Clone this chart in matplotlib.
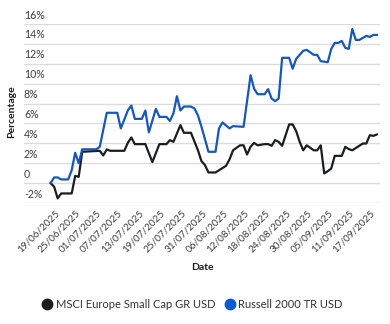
import matplotlib
matplotlib.use("Agg")
import matplotlib.pyplot as plt
from matplotlib.lines import Line2D
from matplotlib.transforms import blended_transform_factory, offset_copy
from datetime import datetime, timedelta

plt.rcParams['font.family'] = ['Lato', 'DejaVu Sans']

# Cumulative return (%) of each index, by date
msci_dates = ["2025-06-16", "2025-06-17", "2025-06-18", "2025-06-19", "2025-06-22",
              "2025-06-23", "2025-06-24", "2025-06-25", "2025-06-30", "2025-07-01",
              "2025-07-02", "2025-07-03", "2025-07-07", "2025-07-08", "2025-07-09",
              "2025-07-10", "2025-07-13", "2025-07-15", "2025-07-17", "2025-07-19",
              "2025-07-20", "2025-07-21", "2025-07-23", "2025-07-24", "2025-07-26",
              "2025-07-28", "2025-07-29", "2025-07-30", "2025-07-31", "2025-08-02",
              "2025-08-05", "2025-08-06", "2025-08-07", "2025-08-09", "2025-08-10",
              "2025-08-11", "2025-08-12", "2025-08-13", "2025-08-14", "2025-08-16",
              "2025-08-17", "2025-08-18", "2025-08-19", "2025-08-20", "2025-08-21",
              "2025-08-23", "2025-08-24", "2025-08-25", "2025-08-26", "2025-08-27",
              "2025-08-28", "2025-08-30", "2025-08-31", "2025-09-01", "2025-09-02",
              "2025-09-03", "2025-09-04", "2025-09-05", "2025-09-07", "2025-09-08",
              "2025-09-09", "2025-09-10", "2025-09-13", "2025-09-14", "2025-09-15",
              "2025-09-16", "2025-09-17"]
msci_values = [0.0, -0.37, -1.54, -1.04, -1.04,
               0.73, 0.63, 3.15, 3.25, 2.78,
               3.38, 3.25, 3.25, 4.05, 4.59,
               3.92, 3.92, 2.11, 3.92, 3.92,
               4.32, 4.15, 5.83, 5.06, 5.06,
               3.3, 2.21, 1.81, 1.07, 1.07,
               1.74, 2.38, 3.3, 3.8, 3.8,
               2.88, 3.65, 4.05, 3.8, 3.92,
               3.92, 3.75, 4.32, 4.15, 3.75,
               5.9, 5.9, 5.23, 4.15, 3.3,
               3.8, 3.3, 3.3, 3.8, 0.97,
               1.2, 1.47, 2.74, 2.74, 3.65,
               3.42, 3.3, 3.98, 3.98, 4.82,
               4.75, 4.89]

russell_dates = ["2025-06-16", "2025-06-17", "2025-06-18", "2025-06-19", "2025-06-21",
                 "2025-06-22", "2025-06-23", "2025-06-24", "2025-06-25", "2025-06-29",
                 "2025-06-30", "2025-07-02", "2025-07-05", "2025-07-06", "2025-07-08",
                 "2025-07-09", "2025-07-10", "2025-07-12", "2025-07-13", "2025-07-14",
                 "2025-07-16", "2025-07-17", "2025-07-19", "2025-07-20", "2025-07-21",
                 "2025-07-22", "2025-07-23", "2025-07-24", "2025-07-26", "2025-07-27",
                 "2025-07-28", "2025-07-29", "2025-07-31", "2025-08-02", "2025-08-03",
                 "2025-08-04", "2025-08-06", "2025-08-07", "2025-08-10", "2025-08-12",
                 "2025-08-13", "2025-08-14", "2025-08-16", "2025-08-17", "2025-08-18",
                 "2025-08-19", "2025-08-20", "2025-08-21", "2025-08-23", "2025-08-24",
                 "2025-08-25", "2025-08-27", "2025-08-28", "2025-08-30", "2025-08-31",
                 "2025-09-01", "2025-09-03", "2025-09-04", "2025-09-05", "2025-09-06",
                 "2025-09-07", "2025-09-08", "2025-09-09", "2025-09-10", "2025-09-11",
                 "2025-09-12", "2025-09-14", "2025-09-15", "2025-09-16", "2025-09-17"]
russell_values = [0.0, 0.57, 0.57, 0.37, 0.37,
                  1.3, 3.05, 2.0, 3.4, 3.4,
                  3.65, 7.07, 7.07, 5.5, 7.3,
                  7.8, 6.46, 6.46, 7.3, 5.1,
                  7.47, 6.66, 6.66, 6.26, 7.0,
                  8.74, 7.3, 7.7, 7.7, 7.5,
                  6.8, 5.66, 3.15, 3.15, 5.5,
                  6.1, 5.5, 5.73, 5.66, 10.85,
                  9.5, 8.94, 8.94, 9.45, 8.5,
                  8.24, 8.5, 12.6, 12.6, 11.5,
                  12.5, 13.3, 13.4, 12.9, 12.9,
                  12.26, 12.16, 13.5, 14.1, 14.1,
                  14.3, 13.6, 13.5, 15.5, 14.4,
                  14.4, 14.8, 14.7, 14.9, 14.9]

series_names = ["MSCI Europe Small Cap GR USD", "Russell 2000 TR USD"]
series_colors = ["#1b1d22", "#1757b8"]
legend_colors = ["#1b1d22", "#0a5ad4"]

y_ticks = [-2, 0, 2, 4, 6, 8, 10, 12, 14, 16]
y_tick_labels = ["-2%", "0", "2%", "4%", "6%", "8%", "10%", "12%", "14%", "16%"]
x_tick_labels = ["19/06/2025", "25/06/2025", "01/07/2025", "07/07/2025", "13/07/2025",
                 "19/07/2025", "25/07/2025", "31/07/2025", "06/08/2025", "12/08/2025",
                 "18/08/2025", "24/08/2025", "30/08/2025", "05/09/2025", "11/09/2025",
                 "17/09/2025"]


def to_dates(strings):
    return [datetime.strptime(s, "%Y-%m-%d") for s in strings]


W, H = 390, 324
fig = plt.figure(figsize=(W / 100, H / 100), dpi=100)
ax = fig.add_axes([24 / W, 121 / H, 356 / W, 179 / H])

grid_color = "#dcdcdc"
text_color = "#3c3c3c"

for yv in y_ticks:
    ax.axhline(yv, color=grid_color, lw=1.0, zorder=0)

ax.plot(to_dates(msci_dates), msci_values, color=series_colors[0], lw=1.6,
        solid_joinstyle="round", zorder=3, clip_on=False)
ax.plot(to_dates(russell_dates), russell_values, color=series_colors[1], lw=1.6,
        solid_joinstyle="round", zorder=3, clip_on=False)

start = datetime(2025, 6, 16)
end = datetime(2025, 9, 17)
ax.set_xlim(start - timedelta(days=7.6), end + timedelta(days=0.9))
ax.set_ylim(-2, 16)

for s in ax.spines.values():
    s.set_visible(False)

# y labels sit just above their gridlines, inside the plot area
ax.set_yticks([])
trans = offset_copy(blended_transform_factory(ax.transAxes, ax.transData),
                    fig=fig, x=0, y=2.5, units="points")
for yv, lab in zip(y_ticks, y_tick_labels):
    ax.text(0.0, yv, lab, transform=trans, ha="left", va="bottom",
            fontsize=7.6, color=text_color)

tick_dates = to_dates([datetime.strptime(t, "%d/%m/%Y").strftime("%Y-%m-%d")
                       for t in x_tick_labels])
ax.set_xticks(tick_dates)
ax.set_xticklabels(x_tick_labels, rotation=45, ha="right", fontsize=7.2,
                   color=text_color)
ax.tick_params(axis="x", length=0, pad=4)

ax.set_xlabel("Date", fontsize=7.5, fontweight="bold", color="#1a1a1a", labelpad=6)
fig.text(12 / W, 1 - 112 / H, "Percentage", rotation=90, ha="center", va="center",
         fontsize=7.5, fontweight="bold", color="#1a1a1a")

handles = [Line2D([], [], marker="o", linestyle="none", markersize=7.5,
                  markerfacecolor=c, markeredgecolor=c) for c in legend_colors]
fig.legend(handles, series_names, loc="center", bbox_to_anchor=(192 / W, 20 / H),
           ncol=2, frameon=False, fontsize=8, handletextpad=0.3, columnspacing=0.8,
           labelcolor="#333333", handlelength=1.0)

fig.savefig("out.png", dpi=100)
